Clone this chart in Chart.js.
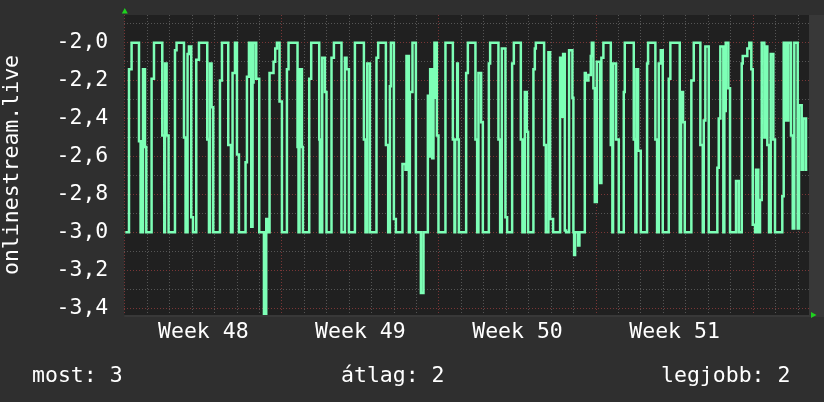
<!DOCTYPE html>
<html>
<head>
<meta charset="utf-8">
<script src="https://cdn.jsdelivr.net/npm/chart.js@4/dist/chart.umd.min.js"></script>
<style>
  html, body { margin: 0; padding: 0; background: #2f2f2f; }
  #wrap { width: 824px; height: 402px; }
</style>
</head>
<body>
<div id="wrap"><canvas id="chart" width="824" height="402"></canvas></div>
<script>
// RRD style graph - onlinestream.live, weeks 48-51
// x is the rrd step index since monday of week 48 (one step per graph pixel)

const steps = [
  1, 4.7, 7.3, 14.7, 16.3, 18.7, 20.7, 22, 27.3, 29.7, 38, 40, 40.7, 42.3, 44.3,
  50.7, 52.3, 59.7, 61.3, 63.3, 64.7, 67, 68.7, 72, 74.7, 83, 84.7, 85.7, 87.3, 89,
  95.7, 97.7, 104, 106.7, 108.3, 110.7, 112.7, 114.7, 121.3, 122.7, 124.7, 127, 128.3, 129.3, 132,
  135, 139.7, 142, 144, 145.3, 149.3, 151, 152.7, 155.3, 157.7, 162.7, 164.3, 173.3, 174.3, 175.3,
  177.7, 178.7, 185, 187, 195, 195.7, 198, 200.7, 202.3, 207.3, 209.7, 217.3, 220.7, 222.3, 224.7,
  230.7, 239.7, 241.3, 243, 245.7, 252.3, 254, 261.7, 264, 265.7, 266.7, 269.7, 271.7, 278.3, 281.3,
  282.3, 284.7, 285.7, 288.3, 291.7, 296.7, 299.3, 303.7, 305.3, 306, 308, 309.3, 310.3, 312.7, 314.3,
  321.3, 328.7, 330.3, 331, 333, 333.7, 334.7, 342, 343.7, 351.3, 353, 354.3, 357, 358.7, 364.7,
  366, 374.3, 376, 377.7, 381.3, 383, 388, 389.7, 396.7, 398.3, 400.7, 402.7, 404, 409.3, 410.7,
  411.7, 420, 421.7, 424.3, 426, 429, 436, 437.7, 439, 440.7, 442, 445, 448.3, 449.3, 450,
  451, 454, 455.3, 460.7, 461.7, 464.3, 466.7, 467.7, 469.3, 470.7, 472.7, 476, 477.3, 479.3, 486.7,
  488.3, 489, 492, 494.7, 499.7, 500.7, 509.7, 511.3, 512.3, 514, 516.7, 523, 524, 531.3, 533,
  534.7, 536.7, 538.7, 544.7, 546.3, 555.7, 557, 559, 560.7, 567.3, 569.7, 576.3, 578.7, 579.7, 581.3,
  584.7, 593.3, 594.7, 596.3, 599.3, 600.3, 601.7, 604.3, 606, 612, 614.7, 617.7, 618.7, 623.3, 625.3,
  627.3, 628.7, 631, 632, 634.3, 636, 637.7, 640.3, 642, 643.3, 645, 646.7, 649.3, 651, 658.3,
  659.7, 662, 664.3, 667, 668.7, 670.3, 673.7, 675, 677.7, 679.3, 682, 683.3
];

const values = [
  -3.0, -2.14, -2.0, -2.52, -3.0, -2.14, -2.55, -3.0, -2.19, -2.0, -2.49, -3.0, -2.11, -2.49, -3.0,
  -2.04, -2.0, -2.5, -3.0, -2.06, -2.02, -2.92, -3.0, -2.09, -2.0, -2.51, -3.0, -2.11, -2.34, -3.0,
  -2.2, -2.0, -2.54, -3.0, -2.16, -2.0, -2.59, -3.0, -2.63, -2.18, -2.0, -2.97, -2.21, -2.0, -2.19,
  -3.0, -3.44, -2.93, -3.0, -2.16, -2.1, -2.03, -2.0, -2.31, -3.0, -2.14, -2.0, -2.55, -3.0, -2.14,
  -2.55, -3.0, -2.19, -2.0, -2.51, -3.0, -2.08, -2.26, -3.0, -2.08, -2.0, -3.0, -2.08, -2.14, -3.0,
  -2.0, -2.51, -3.0, -2.11, -3.0, -2.08, -2.0, -2.54, -3.0, -2.23, -2.0, -2.93, -3.0, -2.64, -2.67,
  -2.07, -3.0, -2.26, -2.0, -3.0, -3.32, -3.0, -2.28, -2.6, -2.14, -2.61, -2.29, -2.0, -2.49, -3.0,
  -2.0, -2.51, -3.0, -2.51, -2.11, -2.51, -3.0, -2.16, -2.0, -2.51, -3.0, -2.16, -2.42, -3.0, -2.11,
  -2.0, -2.51, -3.0, -2.03, -2.92, -3.0, -2.11, -2.0, -2.51, -3.0, -2.26, -2.47, -3.0, -2.14, -2.03,
  -2.0, -2.54, -3.0, -2.05, -2.93, -3.0, -2.08, -2.39, -2.06, -2.99, -3.0, -2.04, -2.29, -3.0, -3.12,
  -3.0, -3.07, -3.0, -2.16, -2.2, -2.17, -2.07, -2.0, -2.24, -2.84, -2.1, -2.74, -2.08, -2.0, -2.54,
  -3.0, -2.11, -2.51, -3.0, -2.26, -2.0, -2.51, -3.0, -2.14, -2.57, -3.0, -2.11, -2.0, -2.51, -3.0,
  -2.11, -2.04, -3.0, -2.19, -2.0, -3.0, -2.26, -2.42, -3.0, -2.2, -2.0, -2.54, -3.0, -2.41, -2.02,
  -3.0, -2.66, -2.4, -2.02, -3.0, -2.36, -2.0, -2.24, -3.0, -2.73, -3.0, -2.11, -2.07, -2.03, -2.0,
  -2.14, -2.96, -3.0, -2.67, -3.0, -2.83, -2.0, -2.5, -2.02, -2.54, -3.0, -2.06, -2.51, -3.0, -2.81,
  -2.0, -2.41, -2.0, -2.49, -2.98, -2.0, -2.98, -2.33, -2.67, -2.4, -2.67, -2.67
];

const weekLabels = ['Week 48', 'Week 49', 'Week 50', 'Week 51'];
const yTicks = [-3.4, -3.3, -3.2, -3.1, -3.0, -2.9, -2.8, -2.7, -2.6, -2.5, -2.4, -2.3, -2.2, -2.1, -2.0, -1.9];
const legendItems = ['most: 3', 'átlag: 2', 'legjobb: 2'];

const STEPS_PER_DAY = 22.45;
const FIRST_DAY = 0.5;
const FONT = { family: 'DejaVu Sans Mono', size: 21.5 };

const dayTicks = [];
for (let d = 0; d <= 30; d++) dayTicks.push(FIRST_DAY + d * STEPS_PER_DAY);
const weekCenters = weekLabels.map((_, i) => FIRST_DAY + (i * 7 + 3.5) * STEPS_PER_DAY);

const isMajorY = v => Math.abs(v * 5 - Math.round(v * 5)) < 1e-6;

const points = steps.map((s, i) => ({ x: s, y: values[i] }));

// no label overhang padding, the plot box is fixed like in rrdtool
const noOverhang = s => {
  s.paddingTop = 0;
  s.paddingBottom = 0;
  s.paddingLeft = 0;
  s.paddingRight = 0;
};

const rrdBackground = {
  id: 'rrdBackground',
  beforeDraw(chart) {
    const { ctx, chartArea: a } = chart;
    ctx.save();
    ctx.fillStyle = '#2f2f2f';
    ctx.fillRect(0, 0, chart.width, chart.height);
    // lighter frame strip right of the plot and under it
    ctx.fillStyle = '#383838';
    ctx.fillRect(a.right, a.top, chart.width - a.right, a.bottom - a.top + 2);
    ctx.fillRect(a.left, a.bottom, a.right - a.left, 2);
    ctx.fillStyle = '#202020';
    ctx.fillRect(a.left, a.top, a.right - a.left, a.bottom - a.top);
    ctx.restore();
  },
  afterDraw(chart) {
    const { ctx, chartArea: a } = chart;
    ctx.save();
    // axis arrows
    ctx.fillStyle = '#1fd21f';
    ctx.beginPath();
    ctx.moveTo(a.left + 0.5, a.top - 7);
    ctx.lineTo(a.left - 2.5, a.top - 1.5);
    ctx.lineTo(a.left + 3.5, a.top - 1.5);
    ctx.fill();
    ctx.beginPath();
    ctx.moveTo(a.right + 7.5, a.bottom);
    ctx.lineTo(a.right + 2, a.bottom - 3);
    ctx.lineTo(a.right + 2, a.bottom + 3);
    ctx.fill();
    // legend line
    ctx.fillStyle = '#ffffff';
    ctx.font = FONT.size + 'px "' + FONT.family + '"';
    ctx.textBaseline = 'alphabetic';
    ctx.textAlign = 'left';
    ctx.fillText(legendItems[0], 32, 382);
    ctx.fillText(legendItems[1], 341, 382);
    ctx.fillText(legendItems[2], 661, 382);
    ctx.restore();
  }
};

const ctx = document.getElementById('chart').getContext('2d');
new Chart(ctx, {
  type: 'line',
  data: {
    datasets: [{
      data: points,
      xAxisID: 'x',
      yAxisID: 'y',
      borderColor: '#7dffb6',
      borderWidth: 2.5,
      pointRadius: 0,
      stepped: true,
      fill: false,
    }],
  },
  options: {
    responsive: false,
    animation: false,
    layout: { padding: { left: 0, top: 15, right: 15, bottom: 47 } },
    plugins: {
      legend: { display: false },
      tooltip: { enabled: false },
    },
    scales: {
      x: {
        type: 'linear',
        position: 'bottom',
        min: 0,
        max: 685,
        afterBuildTicks: s => { s.ticks = dayTicks.map(v => ({ value: v })); },
        afterFit: s => { s.height = 0; noOverhang(s); },
        ticks: { display: false },
        grid: {
          drawTicks: false,
          color: c => (c.index % 7 === 0 ? '#7a3636' : '#555555'),
        },
        border: { display: false, dash: [1, 2] },
      },
      xw: {
        type: 'linear',
        position: 'bottom',
        min: 0,
        max: 685,
        afterBuildTicks: s => { s.ticks = weekCenters.map(v => ({ value: v })); },
        afterFit: s => { s.height = 40; noOverhang(s); },
        grid: { display: false, drawTicks: false },
        border: { display: false },
        ticks: {
          color: '#ffffff',
          font: FONT,
          padding: 5,
          autoSkip: false,
          maxRotation: 0,
          callback: (v, i) => weekLabels[i],
        },
      },
      y: {
        type: 'linear',
        position: 'left',
        min: -3.436,
        max: -1.854,
        afterBuildTicks: s => { s.ticks = yTicks.map(v => ({ value: v })); },
        afterFit: s => { s.width = 124.3; noOverhang(s); },
        ticks: {
          color: '#ffffff',
          font: FONT,
          padding: 16,
          autoSkip: false,
          callback: v => (isMajorY(v) ? v.toFixed(1).replace('.', ',') : ''),
        },
        grid: {
          drawTicks: false,
          color: c => (isMajorY(c.tick.value) ? '#7a3636' : '#555555'),
        },
        border: { display: false, dash: [1, 2] },
        title: {
          display: true,
          text: 'onlinestream.live',
          color: '#ffffff',
          font: FONT,
          padding: 0,
        },
      },
    },
  },
  plugins: [rrdBackground],
});
</script>
</body>
</html>
